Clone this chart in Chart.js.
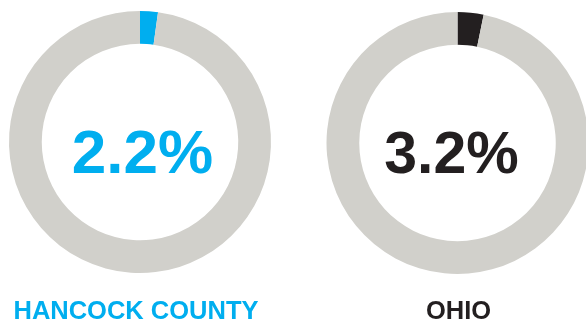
<!DOCTYPE html>
<html>
<head>
<meta charset="utf-8">
<script src="https://cdn.jsdelivr.net/npm/chart.js@4"></script>
<style>
  html, body { margin: 0; padding: 0; background: #fff; overflow: hidden; }
  body { width: 586px; height: 322px; position: relative; }
  canvas { position: absolute; top: 0; }
</style>
</head>
<body>
<canvas id="c-hancock" width="293" height="322" style="left:0"></canvas>
<canvas id="c-ohio" width="300" height="322" style="left:293px"></canvas>
<script>
// share of population, percent
const regions = ["HANCOCK COUNTY", "OHIO"];
const shares = [2.2, 3.2];
const colors = ["#00aeef", "#231f20"];
const restColor = "#d1d0cb";

// canvas ids and padding that places each ring
const canvasIds = ["c-hancock", "c-ohio"];
const paddings = [
  { left: 9, right: 22, top: 11, bottom: 49 },
  { left: 33.5, right: 4.5, top: 12, bottom: 48 }
];
// big number: x shift from ring centre, font size; label x inside canvas
const valueShift = [2.5, -6];
const valueSize = [62, 59];
const labelX = [136, 165.5];

const centerText = {
  id: "centerText",
  afterDraw(chart, args, opts) {
    const ctx = chart.ctx;
    const a = chart.chartArea;
    const cx = (a.left + a.right) / 2;
    const cy = (a.top + a.bottom) / 2;
    ctx.save();
    ctx.fillStyle = opts.color;
    ctx.textAlign = "center";
    ctx.textBaseline = "alphabetic";
    ctx.font = "bold " + opts.size + "px 'Liberation Sans', Arial, sans-serif";
    ctx.fillText(opts.value.toFixed(1) + "%", cx + opts.shift, 173);
    ctx.font = "bold 25.5px 'Liberation Sans', Arial, sans-serif";
    ctx.fillText(opts.label, opts.labelX, 319);
    ctx.restore();
  }
};

regions.forEach((region, i) => {
  new Chart(document.getElementById(canvasIds[i]), {
    type: "doughnut",
    data: {
      labels: [region, "other"],
      datasets: [{
        data: [shares[i], 100 - shares[i]],
        backgroundColor: [colors[i], restColor],
        borderWidth: 0
      }]
    },
    options: {
      responsive: false,
      animation: false,
      cutout: "75%",
      layout: { padding: paddings[i] },
      plugins: {
        legend: { display: false },
        tooltip: { enabled: false },
        centerText: {
          value: shares[i], color: colors[i], label: region,
          labelX: labelX[i], shift: valueShift[i], size: valueSize[i]
        }
      }
    },
    plugins: [centerText]
  });
});
</script>
</body>
</html>
